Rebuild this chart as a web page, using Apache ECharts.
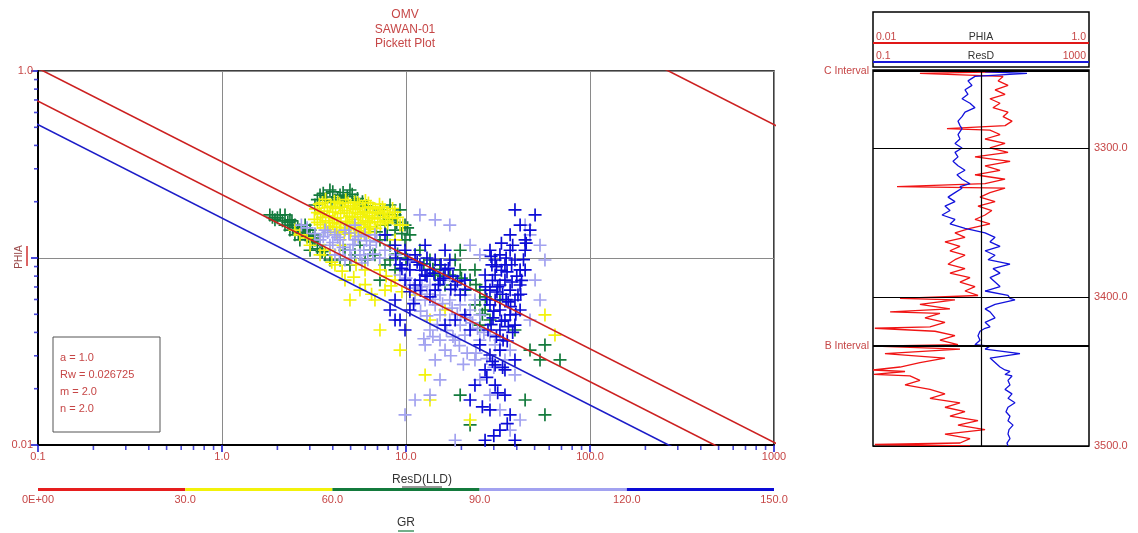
<!DOCTYPE html>
<html>
<head>
<meta charset="utf-8">
<script src="https://cdn.jsdelivr.net/npm/echarts@6/dist/echarts.min.js"></script>
<style>
html,body{margin:0;padding:0;background:#fff}
#chart{width:1138px;height:533px}
</style>
</head>
<body>
<div id="chart"></div>
<script>
// Archie parameters for the Pickett plot
const archie = { a: 1.0, Rw: 0.026725, m: 2.0, n: 2.0 };
// Water saturation lines drawn on the plot (blue = 100 %)
const swLines = [1.0, 0.75, 0.5, 0.01];

// GR colour classes
const grBins = [0, 30, 60, 90, 120, 150];
const grColors = ['#e61e1e', '#f2f20a', '#137a3c', '#a2a2f0', '#0c0cd6'];

// Cross-plot points [ResD, PHIA] grouped by GR class
const grYellow = [
  [3.65,0.206],[4.08,0.201],[4.70,0.205],[5.25,0.199],[6.02,0.203],
  [3.38,0.194],[3.90,0.189],[4.35,0.195],[5.00,0.190],[5.58,0.193],[6.42,0.188],[7.18,0.194],
  [3.22,0.183],[3.60,0.178],[4.14,0.184],[4.62,0.179],[5.31,0.182],[5.95,0.177],[6.82,0.183],[7.65,0.179],
  [3.44,0.172],[3.83,0.168],[4.41,0.173],[4.93,0.167],[5.66,0.171],[6.33,0.168],[7.26,0.172],[8.15,0.169],
  [3.18,0.161],[3.66,0.158],[4.08,0.162],[4.70,0.157],[5.24,0.161],[6.04,0.158],[6.74,0.162],[7.73,0.158],
  [3.43,0.151],[3.82,0.148],[4.42,0.152],[4.91,0.149],[5.67,0.151],[6.32,0.147],[7.25,0.151],
  [3.89,0.142],[4.34,0.139],[5.01,0.143],[5.57,0.140],[6.41,0.142],
  [4.62,0.134],[5.32,0.131],[5.94,0.134],
  [3.52,0.198],[4.25,0.199],[4.85,0.197],[5.45,0.198],[6.25,0.197],[3.74,0.186],[4.52,0.187],[5.15,0.185],[5.82,0.186],[6.60,0.185],[7.45,0.187],[8.45,0.184],
  [3.30,0.175],[4.00,0.176],[4.78,0.174],[5.45,0.175],[6.18,0.174],[7.00,0.176],[7.92,0.174],[8.70,0.176],
  [3.52,0.165],[4.24,0.164],[5.10,0.165],[5.82,0.166],[6.55,0.164],[7.48,0.165],[8.45,0.163],
  [3.30,0.155],[4.00,0.154],[4.80,0.156],[5.50,0.154],[6.20,0.155],[7.02,0.156],[7.95,0.154],
  [3.60,0.145],[4.20,0.146],[4.72,0.145],[5.30,0.146],[5.92,0.145],[6.85,0.144],
  [4.20,0.137],[4.98,0.136],[5.70,0.137],[6.25,0.137],[9.0,0.165],[9.6,0.150],
  [2.65,0.133],[3.01,0.117],[2.49,0.141],[4.11,0.0918],[4.66,0.0762],[5.62,0.0674],[6.78,0.0596],
  [4.96,0.0596],[7.69,0.0674],[8.72,0.0762],[7.22,0.0863],[3.41,0.104],[5.99,0.0863],[4.38,0.117],[3.86,0.110],
  [3.95,0.095],[4.50,0.085],[5.20,0.079],[6.00,0.072],[6.50,0.064],[5.35,0.092],[7.80,0.080],[8.30,0.071],[3.60,0.110],[9.50,0.066],[2.90,0.128],
  [7.22,0.0412],[9.28,0.0322],[13.5,0.0174],[12.7,0.0237],[22.3,0.0136],[56.9,0.0496],[64.5,0.0387],
  [13.5,0.0466],[11.2,0.0634],[16.3,0.0527],[8.72,0.125],[9.28,0.150]
];
const grGreen = [
  [3.41,0.217],[3.86,0.231],[4.38,0.217],[4.96,0.231],[5.28,0.204],[3.63,0.204],[4.66,0.204],[4.11,0.204],[5.62,0.192],[3.20,0.192],
  [3.55,0.222],[3.70,0.212],[4.00,0.226],[4.25,0.210],[4.55,0.224],[4.80,0.213],[5.10,0.219],[5.45,0.208],[3.30,0.205],[3.95,0.198],[4.45,0.199],[5.80,0.200],[6.10,0.190],
  [7.22,0.181],[8.19,0.192],[8.72,0.170],[9.28,0.181],[9.88,0.150],[7.69,0.150],[8.72,0.141],[9.88,0.125],[10.5,0.133],[8.19,0.117],[7.22,0.125],
  [7.5,0.170],[8.0,0.160],[8.9,0.155],[9.5,0.135],[10.2,0.145],[7.9,0.133],[6.9,0.138],
  [1.82,0.170],[1.94,0.160],[2.07,0.170],[2.20,0.150],[2.34,0.160],[2.49,0.150],[2.65,0.141],[2.34,0.141],[2.83,0.133],[3.01,0.141],
  [3.20,0.125],[2.65,0.125],[3.41,0.117],[3.01,0.110],[3.63,0.104],[3.86,0.0976],[3.20,0.133],[2.83,0.150],[2.20,0.170],[2.49,0.133],
  [1.88,0.165],[2.00,0.164],[2.13,0.158],[2.28,0.155],[2.42,0.146],[2.58,0.145],[2.75,0.138],[2.92,0.130],[3.10,0.122],[3.30,0.112],[3.50,0.108],[2.40,0.158],[2.60,0.136],[2.90,0.141],[3.12,0.128],
  [4.66,0.110],[5.28,0.104],[5.99,0.0976],[6.78,0.104],[7.69,0.0918],[5.62,0.117],[6.37,0.110],[4.96,0.0918],[8.72,0.0863],[7.22,0.0762],[8.19,0.0976],[4.38,0.0976],
  [9.0,0.105],[10.0,0.100],[12.5,0.093],[14.0,0.087],[16.0,0.080],[20.0,0.078],[24.0,0.072],[27.0,0.062],[26.0,0.050],
  [13.5,0.0976],[15.3,0.0918],[17.3,0.0811],[19.7,0.0863],[22.3,0.0762],[16.3,0.0717],[25.2,0.0674],[20.9,0.0674],[14.4,0.0811],[18.5,0.0976],[23.7,0.0863],[11.9,0.110],
  [25.2,0.0596],[26.9,0.0527],[28.6,0.0466],[25.2,0.0438],[23.7,0.0561],
  [19.7,0.110],[56.9,0.0343],[53.5,0.0285],[68.7,0.0285],[56.9,0.0145],[44.4,0.0174],[19.7,0.0185],[22.3,0.0128],[32.4,0.0596],[39.1,0.0412],[47.2,0.0322]
];
const grLightBlue = [
  [3.63,0.141],[4.11,0.133],[4.66,0.141],[5.28,0.125],[5.99,0.133],[3.86,0.117],[4.38,0.125],[4.96,0.110],[5.62,0.104],[6.37,0.117],
  [6.78,0.133],[4.66,0.0976],[4.11,0.104],[3.41,0.125],[5.28,0.150],[7.69,0.110],
  [3.75,0.137],[4.25,0.129],[4.90,0.136],[5.50,0.130],[6.10,0.124],[4.00,0.121],[4.55,0.114],[5.15,0.118],[5.90,0.110],[6.60,0.105],
  [4.35,0.104],[5.05,0.100],[5.75,0.094],[6.20,0.098],[7.20,0.100],[3.55,0.130],[3.20,0.135],[2.90,0.145],[2.70,0.150],[6.90,0.122],
  [11.9,0.170],[14.4,0.160],[17.3,0.150],[22.3,0.117],[25.2,0.104],[47.2,0.133],[53.5,0.117],[44.4,0.150],[8.72,0.104],[10.5,0.0976],
  [9.28,0.0811],[10.5,0.0717],[11.9,0.0674],[13.5,0.0717],[15.3,0.0634],[17.3,0.0596],[19.7,0.0561],[22.3,0.0527],[16.3,0.0762],[18.5,0.0674],
  [20.9,0.0634],[23.7,0.0596],[14.4,0.0561],[12.7,0.0596],[11.2,0.0596],[15.3,0.0496],[17.3,0.0466],[19.7,0.0438],[22.3,0.0466],[25.2,0.0496],
  [28.6,0.0387],[32.4,0.0364],[36.8,0.0322],[34.5,0.0285],[30.5,0.0343],[13.5,0.0412],[15.3,0.0364],[16.3,0.0322],[14.4,0.0285],[12.7,0.0343],
  [18.5,0.0364],[20.9,0.0387],[25.2,0.0364],
  [10.0,0.078],[11.0,0.069],[12.2,0.070],[13.0,0.064],[14.0,0.060],[15.8,0.057],[17.8,0.054],[19.0,0.050],[21.2,0.048],[23.0,0.045],
  [24.5,0.042],[26.5,0.040],[12.0,0.052],[13.0,0.049],[14.8,0.044],[16.6,0.041],[18.0,0.038],[19.5,0.034],[21.5,0.031],[24.0,0.031],
  [27.5,0.029],[30.0,0.026],[14.0,0.038],[12.5,0.037],[17.5,0.030],[20.5,0.027],
  [9.88,0.0145],[11.2,0.0174],[18.5,0.0106],[32.4,0.0154],[36.8,0.0120],[41.7,0.0136],[25.2,0.0223],[28.6,0.0185],[23.7,0.0285],[39.1,0.0237],
  [15.3,0.0223],[13.5,0.0185],
  [47.2,0.0466],[53.5,0.0596],[50.3,0.0762],[56.9,0.0976],[41.7,0.0863]
];
const grBlue = [
  [7.69,0.133],[8.72,0.117],[9.88,0.110],[11.2,0.104],[9.28,0.0918],[10.5,0.0863],[11.9,0.0918],[12.7,0.0811],[13.5,0.0863],[15.3,0.0762],
  [11.2,0.0717],[9.88,0.0762],[8.72,0.0596],[9.28,0.0466],[10.5,0.0527],[11.9,0.0762],[14.4,0.0674],[16.3,0.0863],[18.5,0.0717],[19.7,0.0634],
  [20.9,0.0762],[14.4,0.0976],[12.7,0.117],[16.3,0.110],[17.3,0.0976],[8.19,0.0527],[9.88,0.0412],[8.72,0.0466],
  [10.2,0.098],[11.5,0.095],[12.2,0.086],[13.0,0.080],[14.2,0.083],[15.0,0.072],[16.0,0.078],[17.5,0.068],[18.0,0.080],[19.0,0.075],
  [12.0,0.067],[13.5,0.062],[10.5,0.066],[11.0,0.057],[9.5,0.088],[8.8,0.100],[13.0,0.100],[15.5,0.092],[17.0,0.088],[21.0,0.068],
  [28.6,0.110],[30.5,0.0976],[32.4,0.104],[34.5,0.0918],[36.8,0.110],[39.1,0.0976],[41.7,0.0863],[30.5,0.0811],[32.4,0.0717],[34.5,0.0762],
  [36.8,0.0674],[39.1,0.0596],[41.7,0.0717],[28.6,0.0674],[30.5,0.0596],[32.4,0.0527],[34.5,0.0466],[36.8,0.0496],[39.1,0.0438],[28.6,0.0561],
  [32.4,0.0412],[41.7,0.0527],[26.9,0.0811],[44.4,0.110],[44.4,0.0863],
  [29.3,0.0918],[35.4,0.0842],[37.7,0.0744],[31.2,0.0658],[35.9,0.0582],[40.6,0.0634],[29.7,0.0478],[33.7,0.0364],[27.9,0.0412],
  [29.0,0.102],[31.0,0.090],[33.0,0.086],[35.0,0.100],[37.5,0.092],[40.0,0.080],[42.5,0.076],[29.5,0.076],[31.5,0.070],[33.5,0.064],
  [35.0,0.060],[37.0,0.055],[39.5,0.050],[42.0,0.064],[30.0,0.052],[33.0,0.046],[36.0,0.043],[38.0,0.040],[29.0,0.044],[31.0,0.038],
  [35.5,0.036],[27.5,0.060],[27.0,0.070],[43.5,0.098],[45.0,0.120],[38.0,0.117],[33.0,0.120],
  [39.1,0.181],[50.3,0.170],[47.2,0.141],[41.7,0.150],[36.8,0.133],[44.4,0.125],
  [25.2,0.0343],[28.6,0.0303],[30.5,0.0268],[32.4,0.0322],[26.9,0.0252],[23.7,0.0209],[30.5,0.0209],[34.5,0.0185],[28.6,0.0154],[36.8,0.0145],
  [32.4,0.0120],[26.9,0.0106],[39.1,0.0106],[34.5,0.0252],[22.3,0.0174],[39.1,0.0285],
  [29.5,0.028],[33.5,0.026],[27.5,0.023],[31.5,0.019],[26.0,0.016],[35.5,0.013],[30.0,0.0112],
  [20.9,0.0496],[22.3,0.0412],[18.5,0.0466],[16.3,0.0438]
];

// Log track: depth (m), PHIA (v/v) and ResD (ohm.m)
const depth = [3249,3250,3252,3255,3258,3261,3264,3267,3270,3273,3276,3279,3282,3285,3287,3288,3291,3294,3297,3300,
  3303,3306,3309,3312,3315,3318,3321,3324,3326,3327,3330,3333,3336,3339,3342,3345,3348,3351,3354,3357,
  3360,3363,3366,3369,3372,3375,3378,3381,3384,3387,3390,3393,3396,3399,3401,3402,3405,3408,3410,3411,
  3414,3417,3420,3421,3423,3426,3429,3432,3433,3435,3438,3441,3444,3447,3449,3450,3452,3453,3456,3459,
  3462,3465,3468,3471,3474,3477,3480,3483,3486,3489,3492,3495,3498,3499,3500];
const phiaLog = [0.150,0.0272,0.160,0.144,0.178,0.135,0.167,0.121,0.150,0.129,0.178,0.160,0.194,0.167,0.0484,0.121,0.150,0.109,0.167,0.121,
  0.178,0.0880,0.186,0.109,0.150,0.0880,0.167,0.109,0.0167,0.167,0.121,0.0979,0.135,0.0938,0.126,0.109,0.0880,0.121,0.0791,0.0574,
  0.0711,0.0464,0.0639,0.0516,0.0711,0.0574,0.0495,0.0711,0.0516,0.0791,0.0639,0.0880,0.0711,0.0938,0.0178,0.0574,0.0272,0.0516,0.0144,0.0417,
  0.0303,0.0464,0.0337,0.0104,0.0375,0.0574,0.0417,0.0612,0.0104,0.0639,0.0129,0.0464,0.0272,0.0178,0.0100,0.0198,0.0102,0.0220,0.0272,0.0198,
  0.0337,0.0464,0.0337,0.0639,0.0464,0.0711,0.0516,0.0938,0.0612,0.109,0.0464,0.0791,0.0639,0.0104,0.0791];
const resdLog = [11.9,71.1,7.74,5.74,6.81,5.06,5.74,4.45,6.26,7.74,5.06,4.45,3.75,4.08,4.45,4.64,3.75,4.08,3.30,4.45,
  3.30,3.75,3.03,3.75,5.06,3.59,4.45,6.26,4.08,4.45,3.30,2.45,3.30,2.15,2.67,1.90,3.30,2.67,5.06,11.9,
  18.2,14.7,22.5,11.9,18.2,13.5,34.4,16.7,22.5,14.7,18.2,22.5,11.9,31.6,34.4,42.6,18.2,11.9,14.7,13.5,
  18.2,11.9,14.7,11.9,9.58,8.80,9.58,7.74,14.7,11.9,52.7,14.7,18.2,22.5,27.8,34.4,27.8,37.5,31.6,34.4,
  27.8,37.5,31.6,42.6,31.6,29.0,34.4,31.6,39.2,33.0,31.6,34.4,30.3,31.6,31.6];

// Zone tops and depth labels on the track
const zones = [{ name: 'C Interval', depth: 3248.5 }, { name: 'B Interval', depth: 3433 }];
const depthMarks = [3300, 3400, 3500];

// Minor log tick multipliers
const minorMult = [2, 3, 4, 5, 6, 7, 8, 9];
const xDecades = [0.1, 1, 10, 100];
const yDecades = [0.01, 0.1];

const FONT = '"Liberation Sans", Arial, sans-serif';
const RED_TXT = '#c64646';
const PLUS = 'path://M0,8.7H20V11.3H0ZM8.7,0H11.3V20H8.7Z';

function swPhi(rt, sw) {
  return Math.pow(archie.a * archie.Rw / (rt * Math.pow(sw, archie.n)), 1 / archie.m);
}

const chart = echarts.init(document.getElementById('chart'), null, { renderer: 'canvas' });

// drawing order: green, yellow, light blue, blue
const scatterGroups = [
  { name: '60-90', data: grGreen, color: grColors[2] },
  { name: '30-60', data: grYellow, color: grColors[1] },
  { name: '90-120', data: grLightBlue, color: grColors[3] },
  { name: '120-150', data: grBlue, color: grColors[4] }
];

const series = [];
scatterGroups.forEach(g => series.push({
  type: 'scatter', name: g.name, xAxisIndex: 0, yAxisIndex: 0,
  data: g.data, symbol: PLUS, symbolSize: 13,
  itemStyle: { color: g.color, opacity: 1 }, z: 2, silent: true
}));

swLines.forEach(sw => series.push({
  type: 'line', xAxisIndex: 0, yAxisIndex: 0,
  data: [[0.01, swPhi(0.01, sw)], [10000, swPhi(10000, sw)]],
  symbol: 'none', silent: true, z: 4,
  lineStyle: { color: sw === 1 ? '#1c1cc8' : '#cc2020', width: 1.6 }
}));

// minor ticks on the log axes
series.push({
  type: 'scatter', xAxisIndex: 0, yAxisIndex: 0, clip: false, silent: true, z: 5,
  data: xDecades.flatMap(d => minorMult.map(k => [k * d, 0.01])),
  symbol: 'rect', symbolSize: [1.6, 4], symbolOffset: [0, 3],
  itemStyle: { color: '#1a1ad0' }
});
series.push({
  type: 'scatter', xAxisIndex: 0, yAxisIndex: 0, clip: false, silent: true, z: 5,
  data: yDecades.flatMap(d => minorMult.map(k => [0.1, k * d])),
  symbol: 'rect', symbolSize: [4, 1.6], symbolOffset: [-2, 0],
  itemStyle: { color: '#1a1ad0' }
});

// log track curves
series.push({
  type: 'line', name: 'PHIA', xAxisIndex: 1, yAxisIndex: 1,
  data: depth.map((d, i) => [phiaLog[i], d]),
  symbol: 'none', silent: true, z: 3,
  lineStyle: { color: '#f01414', width: 1.3 },
  markLine: {
    silent: true, symbol: ['none', 'none'], animation: false,
    data: [
      ...zones.map(z => ({
        yAxis: z.depth, lineStyle: { color: '#000', width: 2, type: 'solid' },
        label: { show: true, position: 'start', formatter: z.name, color: RED_TXT, fontSize: 10.5, fontFamily: FONT, distance: 4 }
      })),
      ...depthMarks.map(d => ({
        yAxis: d, lineStyle: { color: '#000', width: 1, type: 'solid' },
        label: { show: true, position: 'end', formatter: d.toFixed(1), color: RED_TXT, fontSize: 11, fontFamily: FONT, distance: 5 }
      })),
      { xAxis: 0.1, lineStyle: { color: '#000', width: 1.2, type: 'solid' }, label: { show: false } }
    ]
  }
});
series.push({
  type: 'line', name: 'ResD', xAxisIndex: 2, yAxisIndex: 1,
  data: depth.map((d, i) => [resdLog[i], d]),
  symbol: 'none', silent: true, z: 3,
  lineStyle: { color: '#1212dc', width: 1.3 }
});

// GR colour bar
for (let i = 0; i < grBins.length - 1; i++) {
  series.push({
    type: 'bar', stack: 'gr', xAxisIndex: 3, yAxisIndex: 2, silent: true,
    data: [grBins[i + 1] - grBins[i]], barWidth: 3,
    itemStyle: { color: grColors[i] }
  });
}

const graphic = [
  // title
  { type: 'text', x: 405, y: 15, style: { text: 'OMV', font: '12px ' + FONT, fill: RED_TXT, textAlign: 'center', textVerticalAlign: 'middle' } },
  { type: 'text', x: 405, y: 30, style: { text: 'SAWAN-01', font: '12px ' + FONT, fill: RED_TXT, textAlign: 'center', textVerticalAlign: 'middle' } },
  { type: 'text', x: 405, y: 44, style: { text: 'Pickett Plot', font: '12px ' + FONT, fill: RED_TXT, textAlign: 'center', textVerticalAlign: 'middle' } },
  // y axis name
  { type: 'text', x: 19, y: 257, rotation: Math.PI / 2, style: { text: 'PHIA', font: '10px ' + FONT, fill: '#9a4a4a', textAlign: 'center', textVerticalAlign: 'middle' } },
  { type: 'line', shape: { x1: 27, y1: 246, x2: 27, y2: 266 }, style: { stroke: '#d03030', lineWidth: 1.5 } },
  // x axis name and GR caption
  { type: 'text', x: 422, y: 480, style: { text: 'ResD(LLD)', font: '12px ' + FONT, fill: '#333', textAlign: 'center', textVerticalAlign: 'middle' } },
  { type: 'line', shape: { x1: 402, y1: 487, x2: 442, y2: 487 }, style: { stroke: '#333', lineWidth: 1 } },
  { type: 'text', x: 406, y: 523, style: { text: 'GR', font: '12px ' + FONT, fill: '#333', textAlign: 'center', textVerticalAlign: 'middle' } },
  { type: 'line', shape: { x1: 398, y1: 531, x2: 414, y2: 531 }, style: { stroke: '#137a3c', lineWidth: 1.2 } },
  // parameter box
  { type: 'rect', shape: { x: 53, y: 337, width: 107, height: 95 }, style: { fill: '#fff', stroke: '#555', lineWidth: 1 }, z: 10 },
  { type: 'text', x: 60, y: 358, z: 11, style: { text: 'a = ' + archie.a.toFixed(1), font: '11px ' + FONT, fill: RED_TXT, textVerticalAlign: 'middle' } },
  { type: 'text', x: 60, y: 375, z: 11, style: { text: 'Rw = ' + archie.Rw, font: '11px ' + FONT, fill: RED_TXT, textVerticalAlign: 'middle' } },
  { type: 'text', x: 60, y: 392, z: 11, style: { text: 'm = ' + archie.m.toFixed(1), font: '11px ' + FONT, fill: RED_TXT, textVerticalAlign: 'middle' } },
  { type: 'text', x: 60, y: 409, z: 11, style: { text: 'n = ' + archie.n.toFixed(1), font: '11px ' + FONT, fill: RED_TXT, textVerticalAlign: 'middle' } },
  // track header
  { type: 'rect', shape: { x: 873, y: 12, width: 216, height: 55 }, style: { fill: 'none', stroke: '#000', lineWidth: 1.5 } },
  { type: 'line', shape: { x1: 873, y1: 43, x2: 1089, y2: 43 }, style: { stroke: '#e01818', lineWidth: 2 } },
  { type: 'line', shape: { x1: 873, y1: 62, x2: 1089, y2: 62 }, style: { stroke: '#1818d8', lineWidth: 2 } },
  { type: 'text', x: 876, y: 37, style: { text: '0.01', font: '10.5px ' + FONT, fill: RED_TXT, textVerticalAlign: 'middle' } },
  { type: 'text', x: 981, y: 37, style: { text: 'PHIA', font: '10.5px ' + FONT, fill: '#333', textAlign: 'center', textVerticalAlign: 'middle' } },
  { type: 'text', x: 1086, y: 37, style: { text: '1.0', font: '10.5px ' + FONT, fill: RED_TXT, textAlign: 'right', textVerticalAlign: 'middle' } },
  { type: 'text', x: 876, y: 56, style: { text: '0.1', font: '10.5px ' + FONT, fill: RED_TXT, textVerticalAlign: 'middle' } },
  { type: 'text', x: 981, y: 56, style: { text: 'ResD', font: '10.5px ' + FONT, fill: '#333', textAlign: 'center', textVerticalAlign: 'middle' } },
  { type: 'text', x: 1086, y: 56, style: { text: '1000', font: '10.5px ' + FONT, fill: RED_TXT, textAlign: 'right', textVerticalAlign: 'middle' } }
];

const option = {
  animation: false,
  textStyle: { fontFamily: FONT },
  grid: [
    { left: 38, top: 71, width: 736, height: 374, show: true, borderColor: '#000', borderWidth: 1.5, containLabel: false },
    { left: 873, top: 70, width: 216, height: 376, show: true, borderColor: '#000', borderWidth: 1.5, containLabel: false },
    { left: 38, top: 488, width: 736, height: 3, containLabel: false }
  ],
  xAxis: [
    {
      type: 'log', logBase: 10, gridIndex: 0, min: 0.1, max: 1000,
      axisLine: { show: true, lineStyle: { color: '#000', width: 2 } },
      axisTick: { show: true, length: 7, lineStyle: { color: '#1a1ad0', width: 1.6 } },
      axisLabel: {
        margin: 6, color: RED_TXT, fontSize: 11, fontFamily: FONT, showMinLabel: true, showMaxLabel: true,
        formatter: v => (v >= 1000 ? '1000' : Number(v).toFixed(1))
      },
      splitLine: { show: true, lineStyle: { color: '#8a8a8a', width: 1 } }
    },
    { type: 'log', logBase: 10, gridIndex: 1, min: 0.01, max: 1, show: false },
    { type: 'log', logBase: 10, gridIndex: 1, min: 0.1, max: 1000, show: false },
    {
      type: 'value', gridIndex: 2, min: 0, max: 150, interval: 30,
      axisLine: { show: false }, axisTick: { show: false }, splitLine: { show: false },
      axisLabel: {
        margin: 3, color: RED_TXT, fontSize: 11, fontFamily: FONT, showMinLabel: true, showMaxLabel: true,
        formatter: v => (v === 0 ? '0E+00' : Number(v).toFixed(1))
      }
    }
  ],
  yAxis: [
    {
      type: 'log', logBase: 10, gridIndex: 0, min: 0.01, max: 1,
      axisLine: { show: true, lineStyle: { color: '#000', width: 2 } },
      axisTick: { show: true, length: 7, lineStyle: { color: '#1a1ad0', width: 1.6 } },
      axisLabel: {
        margin: 5, color: RED_TXT, fontSize: 11, fontFamily: FONT, showMinLabel: true, showMaxLabel: true,
        formatter: v => (Math.abs(v - 1) < 1e-9 ? '1.0' : Math.abs(v - 0.01) < 1e-12 ? '0.01' : '')
      },
      splitLine: { show: true, lineStyle: { color: '#8a8a8a', width: 1 } }
    },
    { type: 'value', gridIndex: 1, inverse: true, min: 3247.7, max: 3500, show: false },
    { type: 'category', gridIndex: 2, data: ['GR'], show: false }
  ],
  series: series,
  graphic: graphic
};

chart.setOption(option);
</script>
</body>
</html>
